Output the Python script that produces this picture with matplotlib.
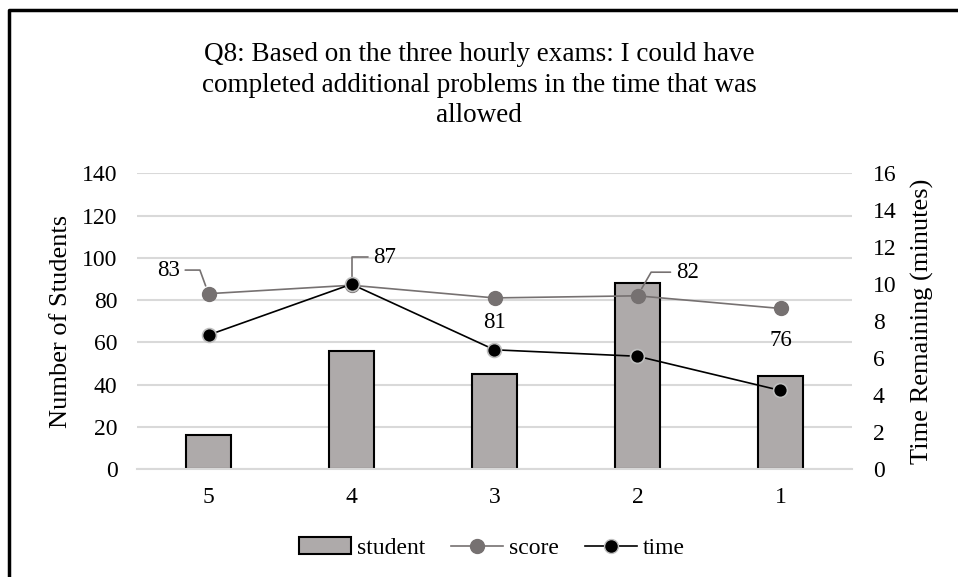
import matplotlib
matplotlib.use('Agg')
import matplotlib.pyplot as plt
from matplotlib.lines import Line2D
from matplotlib.patches import Patch

plt.rcParams['font.family'] = ['Liberation Serif', 'DejaVu Serif']

categories = ['5', '4', '3', '2', '1']
students = [16, 56, 45, 88, 44]
score = [83, 87, 81, 82, 76]
time_left = [7.25, 10.0, 6.45, 6.1, 4.25]

# label offsets in points, and leader line angle (None = no leader)
label_offsets = [(-29, 17), (24, 20), (0, -18), (36, 17), (0, -23)]
leader_angles = [110, 90, None, 60, None]

BAR = '#AEAAAA'
SCORE = '#767171'
GRID = '#D9D9D9'

fig = plt.figure(figsize=(9.58, 5.77), dpi=100)
ax = fig.add_axes([137 / 958, 1 - 469 / 577, 715 / 958, 295.7 / 577])
ax2 = ax.twinx()

x = list(range(len(categories)))
ax.bar(x, students, width=0.32, color=BAR, edgecolor='black', linewidth=1.5, zorder=2)
ax.plot(x, score, color=SCORE, linewidth=1.2, marker='o', markersize=10,
        markerfacecolor=SCORE, markeredgecolor=SCORE, zorder=3)
ax2.plot(x, time_left, color='black', linewidth=1.2, marker='o', markersize=10,
         markerfacecolor='black', markeredgecolor='#BFBFBF', markeredgewidth=1.2, zorder=3)

ax.set_xlim(-0.5, 4.5)
ax.set_ylim(0, 140)
ax2.set_ylim(0, 16)
ax.set_yticks(range(0, 141, 20))
ax2.set_yticks(range(0, 17, 2))
ax.set_xticks(x)
ax.set_xticklabels(categories)

ax.grid(axis='y', color=GRID, linewidth=1.5, zorder=0)
ax.set_axisbelow(True)
for a in (ax, ax2):
    for s in a.spines.values():
        s.set_visible(False)
ax.spines['bottom'].set_visible(True)
ax.spines['bottom'].set_color(GRID)
ax.spines['bottom'].set_linewidth(1.5)

ax.tick_params(axis='both', length=0, labelsize=17)
ax.tick_params(axis='y', pad=14)
ax.tick_params(axis='x', pad=13)
ax2.tick_params(axis='y', length=0, labelsize=17, pad=15)

ax.set_ylabel('Number of Students', fontsize=19, labelpad=7)
ax2.set_ylabel('Time Remaining (minutes)', fontsize=19, labelpad=10)

for i, v in enumerate(score):
    dx, dy = label_offsets[i]
    arrow = None
    if leader_angles[i] is not None:
        arrow = dict(arrowstyle='-', color=SCORE, linewidth=1.2, shrinkA=2, shrinkB=6,
                     connectionstyle='angle,angleA=0,angleB=%d,rad=0' % leader_angles[i])
    ax.annotate(str(v), xy=(i, v), xytext=(dx, dy), textcoords='offset points',
                ha='center', va='center', fontsize=16.5, arrowprops=arrow, zorder=4)

fig.text(0.5, 1 - 42 / 577,
         'Q8: Based on the three hourly exams: I could have\n'
         'completed additional problems in the time that was\nallowed',
         ha='center', va='top', fontsize=19.5, linespacing=1.3)

handles = [
    Patch(facecolor=BAR, edgecolor='black', linewidth=1.5),
    Line2D([], [], color=SCORE, linewidth=1.2, marker='o', markersize=10,
           markerfacecolor=SCORE, markeredgecolor=SCORE),
    Line2D([], [], color='black', linewidth=1.2, marker='o', markersize=10,
           markerfacecolor='black', markeredgecolor='#BFBFBF'),
]
fig.legend(handles, ['student', 'score', 'time'], loc='center',
           bbox_to_anchor=(0.5 + 13 / 958, 1 - 548 / 577), ncol=3, frameon=False,
           fontsize=17, handlelength=2.2, handletextpad=0.25, columnspacing=1.1)

# outer border (only top and left edges are visible in the crop)
fig.add_artist(Line2D([9 / 958, 9 / 958, 1], [0, 1 - 10 / 577, 1 - 10 / 577],
                      color='black', linewidth=2.5, transform=fig.transFigure))

fig.savefig('out.png', dpi=100)
